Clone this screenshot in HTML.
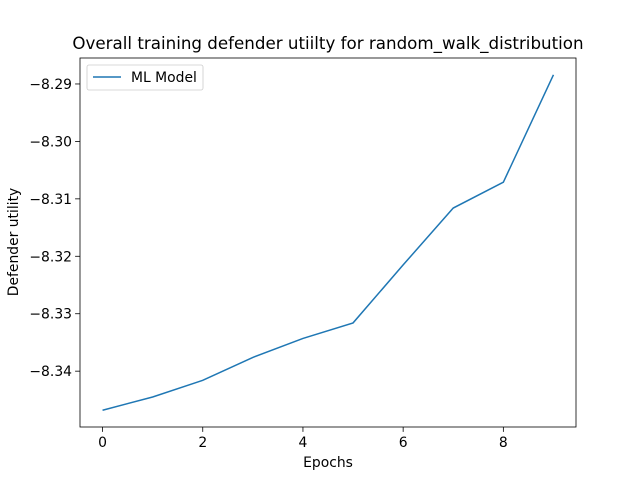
<!DOCTYPE html>
<html><head><meta charset="utf-8"><style>
body{margin:0;background:#fff}
svg{display:block;font-family:"DejaVu Sans","Liberation Sans",sans-serif}
</style></head><body>
<svg id="chart" width="640" height="480">
<rect width="640" height="480" fill="#fff"/>
<text x="328" y="49" text-anchor="middle" font-size="16.7">Overall training defender utiilty for random_walk_distribution</text>
<g id="axes"></g>
<text x="328" y="467" text-anchor="middle" font-size="13.9">Epochs</text>
<text transform="translate(18,242) rotate(-90)" text-anchor="middle" font-size="13.9">Defender utility</text>
</svg>
<script>
const epochs=[0,1,2,3,4,5,6,7,8,9];
const utility=[-8.3468,-8.3445,-8.3416,-8.3376,-8.3343,-8.3316,-8.3215,-8.3116,-8.3071,-8.2884];
const xTicks=[0,2,4,6,8];
const yTicks=[-8.34,-8.33,-8.32,-8.31,-8.30,-8.29];
const yTickLabels=["\u22128.34","\u22128.33","\u22128.32","\u22128.31","\u22128.30","\u22128.29"];
const L=80,R=576,T=58,B=427;
const xmin=-0.45,xmax=9.45;
const dmin=Math.min(...utility),dmax=Math.max(...utility),pad=(dmax-dmin)*0.05;
const ymin=dmin-pad,ymax=dmax+pad;
const sx=v=>L+(v-xmin)/(xmax-xmin)*(R-L);
const sy=v=>B-(v-ymin)/(ymax-ymin)*(B-T);
const ns="http://www.w3.org/2000/svg";
const g=document.getElementById('axes');
function mk(t,a){const e=document.createElementNS(ns,t);for(const k in a)e.setAttribute(k,a[k]);g.appendChild(e);return e;}
xTicks.forEach(v=>{
const l=mk('line',{x1:sx(v),x2:sx(v),y1:B,y2:B+4.9,stroke:'#000','stroke-width':0.8});


const t=mk('text',{x:sx(v),y:B+20,'text-anchor':'middle','font-size':13.9});t.textContent=v;


});
yTicks.forEach((v,i)=>{
const l=mk('line',{x1:L-4.9,x2:L,y1:sy(v),y2:sy(v),stroke:'#000','stroke-width':0.8});


const t=mk('text',{x:L-8,y:sy(v)+5,'text-anchor':'end','font-size':13.9});t.textContent=yTickLabels[i];


});
const p=mk('polyline',{points:epochs.map((e,i)=>sx(e)+','+sy(utility[i])).join(' '),fill:'none',stroke:'#1f77b4','stroke-width':1.5});


const f=mk('rect',{x:L,y:T,width:R-L,height:B-T,fill:'none',stroke:'#000','stroke-width':0.8});


const lg=mk('rect',{x:87,y:65,width:116,height:25,rx:2,fill:'#fff',stroke:'#ccc','stroke-width':0.8});


const ll=mk('line',{x1:93,x2:121,y1:77,y2:77,stroke:'#1f77b4','stroke-width':1.5});


const lt=mk('text',{x:131,y:82,'font-size':13.9});lt.textContent='ML Model';


</script>
</body></html>
